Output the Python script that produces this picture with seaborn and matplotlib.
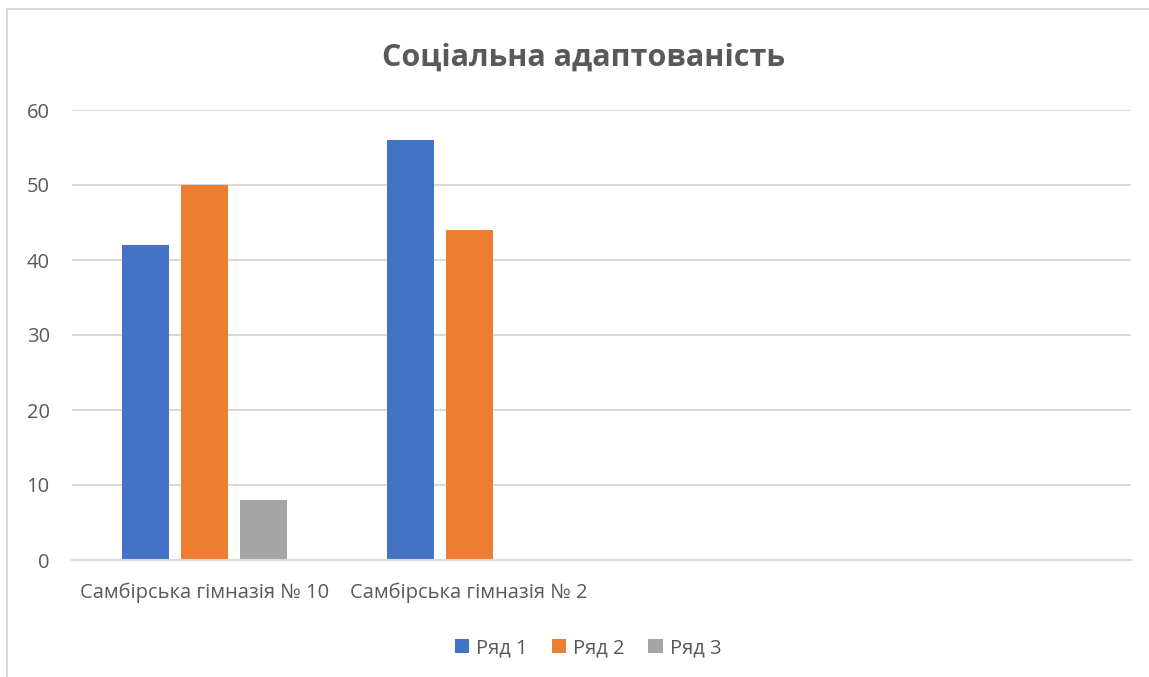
import matplotlib
matplotlib.use('Agg')
import matplotlib.pyplot as plt
from matplotlib.patches import Rectangle
import pandas as pd
import seaborn as sns

# chart data
schools = ['Самбірська гімназія № 10', 'Самбірська гімназія № 2']
# Excel kept two empty category slots on the axis
empty_slots = [' ', '  ']
series = ['Ряд 1', 'Ряд 2', 'Ряд 3']
row1 = [42, 56]
row2 = [50, 44]
row3 = [8, 0]
colors = ['#4472C4', '#ED7D31', '#A5A5A5']

records = []
for name, vals in zip(series, [row1, row2, row3]):
    for school, v in zip(schools, vals):
        records.append({'school': school, 'series': name, 'value': v})
df = pd.DataFrame(records)

sns.set_theme(style='white')
plt.rcParams['font.family'] = ['Open Sans', 'DejaVu Sans']
text_color = '#595959'
grid_color = '#D9D9D9'

fig = plt.figure(figsize=(11.49, 6.77), dpi=100)
ax = fig.add_axes([72 / 1149, 1 - 560 / 677, (1131 - 72) / 1149, 450 / 677])

sns.barplot(data=df, x='school', y='value', hue='series', order=schools + empty_slots,
            hue_order=series, palette=colors, width=0.668, gap=0.2, linewidth=0,
            saturation=1, ax=ax)

ax.set_ylim(0, 60)
ax.set_xlim(-0.5, 3.5)
ax.set_yticks(range(0, 61, 10))
ax.yaxis.grid(True, color=grid_color, linewidth=1.5)
ax.set_axisbelow(True)
for side in ['top', 'right', 'left']:
    ax.spines[side].set_visible(False)
ax.spines['bottom'].set_color(grid_color)
ax.spines['bottom'].set_linewidth(1.5)
ax.tick_params(axis='y', length=0, pad=16, labelsize=14.5, labelcolor=text_color)
ax.tick_params(axis='x', length=0, pad=16, labelsize=14.5, labelcolor=text_color)
ax.set_xlabel('')
ax.set_ylabel('')

handles, labels = ax.get_legend_handles_labels()
ax.legend(handles, labels, loc='center', bbox_to_anchor=(588 / 1149, 1 - 648 / 677),
          bbox_transform=fig.transFigure, ncol=3, frameon=False, fontsize=14.5,
          handlelength=0.7, handleheight=0.7, handletextpad=0.35, columnspacing=1.2,
          labelcolor=text_color)

fig.text(584 / 1149, 1 - 58 / 677, 'Соціальна адаптованість', ha='center', va='center',
         fontsize=22, fontweight='bold', color=text_color)

# chart frame, cut off at right and bottom
fig.patches.append(Rectangle((7 / 1149, -0.1), 1.1, 1.1 - 9 / 677, transform=fig.transFigure,
                             fill=False, edgecolor=grid_color, linewidth=1.5))

fig.savefig('out.png', dpi=100)
